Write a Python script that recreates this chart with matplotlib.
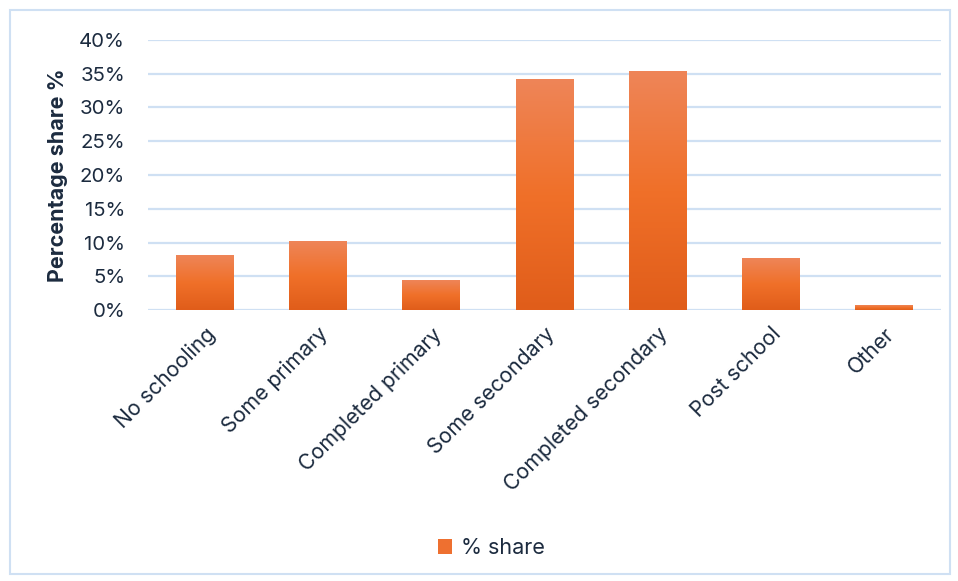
import matplotlib
matplotlib.use("Agg")
import matplotlib.pyplot as plt
import numpy as np
from matplotlib.colors import LinearSegmentedColormap
from matplotlib.patches import Rectangle
from matplotlib.ticker import PercentFormatter
from matplotlib.transforms import ScaledTranslation

categories = ["No schooling", "Some primary", "Completed primary", "Some secondary",
              "Completed secondary", "Post school", "Other"]
share = [8.0, 10.2, 4.4, 34.1, 35.3, 7.6, 0.7]
series_name = "% share"
y_ticks = [0, 5, 10, 15, 20, 25, 30, 35, 40]

plt.rcParams['font.family'] = ['Inter', 'DejaVu Sans']
text_color = "#1c2b3f"
grid_color = "#cfe0f3"

fig = plt.figure(figsize=(9.58, 5.81), dpi=100)
ax = fig.add_axes([0.1545, 0.4664, 0.8275, 0.4648])

x = np.arange(len(categories))
bars = ax.bar(x, share, width=0.51, color="none", zorder=3)

cmap = LinearSegmentedColormap.from_list("og", ["#e05d1a", "#f07029", "#ee8558"])
grad = np.linspace(0, 1, 256).reshape(-1, 1)
for b in bars:
    x0, y0 = b.get_x(), b.get_y()
    w, h = b.get_width(), b.get_height()
    ax.imshow(grad, cmap=cmap, aspect="auto", origin="lower",
              extent=[x0, x0 + w, y0, y0 + h], zorder=3, interpolation="bilinear")

ax.set_xlim(-0.5, len(categories) - 0.5)
ax.set_ylim(0, 40)
ax.set_yticks(y_ticks)
ax.yaxis.set_major_formatter(PercentFormatter(decimals=0))
ax.set_xticks(x)
ax.set_xticklabels(categories, rotation=45, ha="right", va="top", rotation_mode="anchor",
                   fontsize=15.3, color=text_color)
offset = ScaledTranslation(5 / 100, 0, fig.dpi_scale_trans)
for lab in ax.get_xticklabels():
    lab.set_transform(lab.get_transform() + offset)
ax.tick_params(axis="x", length=0, pad=10)
ax.tick_params(axis="y", length=0, pad=16.5, labelsize=14.7, labelcolor=text_color)
ax.grid(axis="y", color=grid_color, linewidth=1.6, zorder=0)
ax.set_axisbelow(True)
for s in ax.spines.values():
    s.set_visible(False)

ax.set_ylabel("Percentage share %", fontsize=15.5, fontweight="bold", color=text_color, labelpad=8)

leg_handle = Rectangle((0, 0), 1, 1, facecolor="#ee7030")
fig.legend([leg_handle], [series_name], loc="center", bbox_to_anchor=(0.513, 0.057),
           frameon=False, fontsize=15.5, handlelength=0.65, handleheight=0.65,
           handletextpad=0.4, labelcolor=text_color)

fig.add_artist(Rectangle((0.0105, 0.012), 0.981, 0.97, transform=fig.transFigure,
                         fill=False, edgecolor=grid_color, linewidth=1.5))

fig.savefig("out.png", dpi=100)
